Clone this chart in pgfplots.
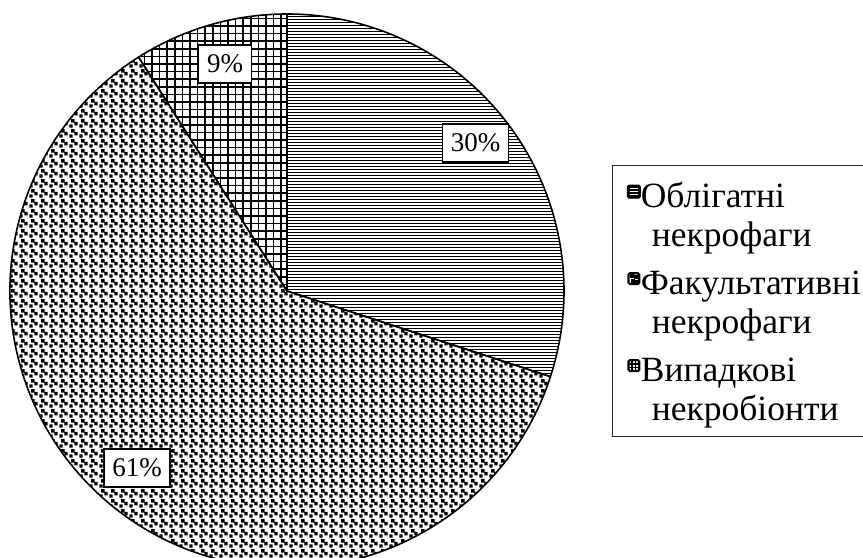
\documentclass[border=0pt]{standalone}
\usepackage{pgfplots}
\usepackage{pgfplotstable}
\pgfplotsset{compat=1.18}
\usetikzlibrary{patterns}
\usepackage{fontspec}
\setmainfont{Liberation Serif}

% dense horizontal lines
\pgfdeclarepatternformonly{hlinesdense}{\pgfqpoint{-1bp}{0bp}}{\pgfqpoint{11bp}{3bp}}{\pgfqpoint{10bp}{3bp}}{%
  \pgfsetlinewidth{1.45bp}%
  \pgfpathmoveto{\pgfqpoint{-1bp}{1.5bp}}\pgfpathlineto{\pgfqpoint{11bp}{1.5bp}}\pgfusepath{stroke}}
% square grid
\pgfdeclarepatternformonly{gridsq}{\pgfqpoint{-1bp}{-1bp}}{\pgfqpoint{8.5bp}{8.5bp}}{\pgfqpoint{7.6bp}{7.6bp}}{%
  \pgfsetlinewidth{1.6bp}%
  \pgfpathmoveto{\pgfqpoint{0bp}{-1bp}}\pgfpathlineto{\pgfqpoint{0bp}{8.5bp}}%
  \pgfpathmoveto{\pgfqpoint{-1bp}{0bp}}\pgfpathlineto{\pgfqpoint{8.5bp}{0bp}}%
  \pgfusepath{stroke}}
% confetti
\pgfdeclarepatternformonly{confetti}{\pgfqpoint{0bp}{0bp}}{\pgfqpoint{10bp}{10bp}}{\pgfqpoint{10bp}{10bp}}{%
  \pgfpathrectangle{\pgfqpoint{0.3bp}{0.3bp}}{\pgfqpoint{3.8bp}{3.8bp}}%
  \pgfpathrectangle{\pgfqpoint{5.8bp}{2.8bp}}{\pgfqpoint{3.8bp}{3.8bp}}%
  \pgfpathrectangle{\pgfqpoint{2.4bp}{6bp}}{\pgfqpoint{3.8bp}{3.8bp}}%
  \pgfusepath{fill}}

\pgfplotstableread{
group value
Obligatni 30
Fakultatyvni 61
Vypadkovi 9
}\piedata

\begin{document}
\begin{tikzpicture}
\pgfplotstablegetelem{0}{value}\of\piedata \let\va\pgfplotsretval
\pgfplotstablegetelem{1}{value}\of\piedata \let\vb\pgfplotsretval
\pgfplotstablegetelem{2}{value}\of\piedata \let\vc\pgfplotsretval
\pgfmathsetmacro\aA{90}
\pgfmathsetmacro\aB{\aA-3.6*\va}
\pgfmathsetmacro\aC{\aB-3.6*\vb}
\pgfmathsetmacro\aD{\aC-3.6*\vc}
\def\R{277}
\begin{axis}[
  x=1bp, y=1bp,
  xmin=-287, xmax=576, ymin=-267, ymax=291,
  hide axis, disabledatascaling, clip=false,
  legend style={
    at={(axis cs:325,126)}, anchor=north west,
    draw=black!85, line width=0.9bp,
    inner xsep=14.5bp, inner ysep=4bp,
    font=\fontsize{35.5bp}{39bp}\selectfont,
    nodes={inner sep=0pt, text depth=},
    cells={anchor=base west},
    column sep=0bp, row sep=9bp,
  },
]
\addlegendimage{legend image code/.code={%
  \fill[black, rounded corners=1.5bp] (0bp,9.3bp) rectangle (13bp,22.3bp);
  \draw[white, line width=1.1bp] (2.6bp,12.9bp) -- (10.4bp,12.9bp) (2.6bp,15.8bp) -- (10.4bp,15.8bp) (2.6bp,18.7bp) -- (10.4bp,18.7bp);}}
\addlegendentry{\begin{tabular}[t]{@{}l@{}}\rule{0pt}{38bp}Облігатні\\\hspace*{11bp}некрофаги\end{tabular}}
\addlegendimage{legend image code/.code={%
  \draw[black, fill=white, line width=2.2bp, rounded corners=1.5bp] (1.1bp,10.4bp) rectangle (11.9bp,21.2bp);
  \fill[black] (3.2bp,17bp) rectangle (6bp,19.6bp) (7.2bp,16bp) rectangle (9.8bp,18.6bp) (4.4bp,12.2bp) rectangle (7bp,14.8bp) (8.4bp,12.2bp) rectangle (9.9bp,13.8bp);}}
\addlegendentry{\begin{tabular}[t]{@{}l@{}}Факультативні\\\hspace*{11bp}некрофаги\end{tabular}}
\addlegendimage{legend image code/.code={%
  \draw[black, fill=white, line width=2.2bp, rounded corners=1.5bp] (1.1bp,10.4bp) rectangle (11.9bp,21.2bp);
  \draw[black, line width=1.3bp] (4.7bp,10.4bp) -- (4.7bp,21.2bp) (8.3bp,10.4bp) -- (8.3bp,21.2bp) (1.1bp,14bp) -- (11.9bp,14bp) (1.1bp,17.6bp) -- (11.9bp,17.6bp);}}
\addlegendentry{\begin{tabular}[t]{@{}l@{}}Випадкові\\\hspace*{11bp}некробіонти\end{tabular}}

\draw[pattern=hlinesdense, line width=1.6bp, line join=round] (axis cs:0,0) -- ++(\aA:\R bp) arc[start angle=\aA, end angle=\aB, radius=\R bp] -- cycle;
\draw[pattern=confetti, line width=1.6bp, line join=round] (axis cs:0,0) -- ++(\aB:\R bp) arc[start angle=\aB, end angle=\aC, radius=\R bp] -- cycle;
\draw[pattern=gridsq, line width=1.6bp, line join=round] (axis cs:0,0) -- ++(\aC:\R bp) arc[start angle=\aC, end angle=\aD, radius=\R bp] -- cycle;

\tikzset{pct/.style={draw=black, line width=1.5bp, fill=white, inner xsep=8.5bp, minimum height=38bp, font=\fontsize{27bp}{30bp}\selectfont}}
\node[pct] at (axis cs:188.5,148) {\va\%};
\node[pct] at (axis cs:-150,-177) {\vb\%};
\node[pct] at (axis cs:-62,227) {\vc\%};
\end{axis}
\pgfresetboundingbox
\useasboundingbox (current axis.south west) rectangle (current axis.north east);
\end{tikzpicture}
\end{document}
